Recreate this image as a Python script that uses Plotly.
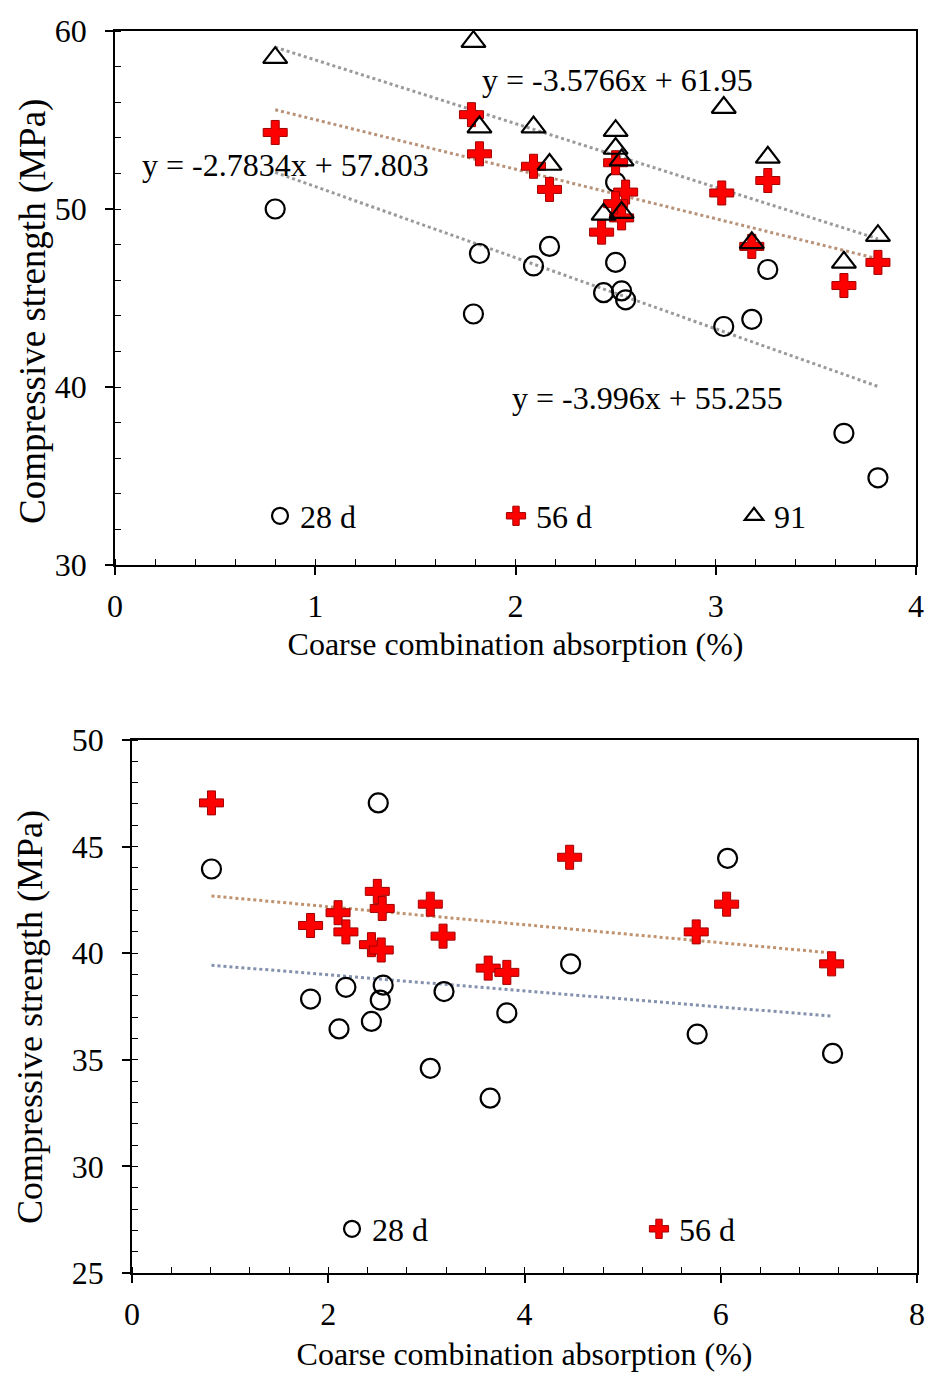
import numpy as np
import plotly.graph_objects as go

# ---------------- Top chart data ----------------
top_x28 = [0.80, 1.79, 1.82, 2.09, 2.17, 2.44, 2.50, 2.50, 2.53, 2.55, 3.04, 3.18, 3.26, 3.64, 3.81]
top_y28 = [50.0, 44.1, 47.5, 46.8, 47.9, 45.3, 47.0, 51.5, 45.4, 44.9, 43.4, 43.8, 46.6, 37.4, 34.9]

top_x56 = [0.80, 1.78, 1.82, 2.09, 2.17, 2.50, 2.55, 2.50, 2.53, 2.43, 3.03, 3.26, 3.18, 3.64, 3.81]
top_y56 = [54.3, 55.3, 53.1, 52.4, 51.1, 52.6, 50.95, 50.3, 49.5, 48.7, 50.9, 51.6, 47.9, 45.7, 47.0]

top_x91 = [0.80, 1.79, 1.82, 2.09, 2.17, 2.50, 2.50, 2.53, 2.44, 2.53, 3.04, 3.18, 3.26, 3.64, 3.81]
top_y91 = [58.5, 59.4, 54.6, 54.6, 52.5, 54.4, 53.4, 52.75, 49.7, 49.8, 55.7, 48.1, 52.9, 47.0, 48.5]

# trendline equations shown on the chart (slope, intercept)
top_fit28 = [-3.996, 55.255]
top_fit56 = [-2.7834, 57.803]
top_fit91 = [-3.5766, 61.95]

top_xticks = [0, 1, 2, 3, 4]
top_yticks = [30, 40, 50, 60]

# ---------------- Bottom chart data ----------------
bot_x28 = [0.81, 2.51, 1.82, 2.11, 2.18, 2.44, 2.53, 2.56, 3.18, 3.04, 3.65, 3.82, 4.47, 5.76, 6.07, 7.14]
bot_y28 = [43.95, 47.05, 37.85, 36.45, 38.4, 36.8, 37.8, 38.5, 38.2, 34.6, 33.2, 37.2, 39.5, 36.2, 44.45, 35.3]

bot_x56 = [0.81, 1.82, 2.10, 2.18, 2.50, 2.55, 2.44, 2.54, 3.04, 3.17, 3.63, 3.82, 4.46, 5.75, 6.06, 7.13]
bot_y56 = [47.05, 41.3, 41.9, 41.0, 42.9, 42.1, 40.4, 40.15, 42.3, 40.8, 39.3, 39.1, 44.5, 41.0, 42.3, 39.5]

bot_xticks = [0, 2, 4, 6, 8]
bot_yticks = [25, 30, 35, 40, 45, 50]

labels_top = ["28 d", "56 d", "91"]
labels_bot = ["28 d", "56 d"]
x_title = "Coarse combination absorption (%)"
y_title = "Compressive strength (MPa)"

FONT = "Liberation Serif"
FS = 32

# page has an 8px body margin; size the figure to fit the 940x1383 window
OFF = 8
W, H = 940 - OFF, 1383 - OFF


def px2fx(px):
    return (px - OFF) / W


def px2fy(py):
    return (H - (py - OFF)) / H


def line_pts(xs, slope, intercept):
    xx = np.array([min(xs), max(xs)])
    return xx, slope * xx + intercept


fig = go.Figure()

circle = dict(symbol="circle-open", size=19, color="black", line=dict(width=2.2, color="black"))
cross = dict(symbol="cross", size=20, color="#ff0000", line=dict(width=1, color="#a00000"))
tri = dict(symbol="triangle-up-open", size=21, color="black", line=dict(width=2.2, color="black"))

# ---- top trendlines
for xs, fit, col in [(top_x91, top_fit91, "#9a9a9a"),
                     (top_x56, top_fit56, "#b8937a"),
                     (top_x28, top_fit28, "#9a9a9a")]:
    lx, ly = line_pts(xs, fit[0], fit[1])
    fig.add_trace(go.Scatter(x=lx, y=ly, mode="lines", xaxis="x", yaxis="y",
                             line=dict(color=col, width=3, dash="dot"),
                             showlegend=False, hoverinfo="skip"))

# ---- top markers (each in its own single-item legend)
fig.add_trace(go.Scatter(x=top_x28, y=top_y28, mode="markers", name=labels_top[0],
                         marker=circle, xaxis="x", yaxis="y", legend="legend"))
fig.add_trace(go.Scatter(x=top_x56, y=top_y56, mode="markers", name=labels_top[1],
                         marker=cross, xaxis="x", yaxis="y", legend="legend2"))
fig.add_trace(go.Scatter(x=top_x91, y=top_y91, mode="markers", name=labels_top[2],
                         marker=tri, xaxis="x", yaxis="y", legend="legend3"))

# ---- bottom trendlines (least squares from the data)
for xs, ys, col in [(bot_x56, bot_y56, "#c0926e"), (bot_x28, bot_y28, "#8391ad")]:
    m, b = np.polyfit(xs, ys, 1)
    lx, ly = line_pts(xs, m, b)
    fig.add_trace(go.Scatter(x=lx, y=ly, mode="lines", xaxis="x2", yaxis="y2",
                             line=dict(color=col, width=3, dash="dot"),
                             showlegend=False, hoverinfo="skip"))

fig.add_trace(go.Scatter(x=bot_x28, y=bot_y28, mode="markers", name=labels_bot[0],
                         marker=circle, xaxis="x2", yaxis="y2", legend="legend4"))
fig.add_trace(go.Scatter(x=bot_x56, y=bot_y56, mode="markers", name=labels_bot[1],
                         marker=cross, xaxis="x2", yaxis="y2", legend="legend5"))

# ---- equation labels
for fit, (ax, ay) in [(top_fit91, (2.507, 57.25)),
                      (top_fit56, (0.85, 52.45)),
                      (top_fit28, (2.657, 39.4))]:
    fig.add_annotation(x=ax, y=ay, xref="x", yref="y", showarrow=False,
                       text=f"y = {fit[0]}x + {fit[1]}",
                       font=dict(family=FONT, size=FS, color="black"))

# ---- y-axis titles (placed as rotated text)
for cx, cy, fs in [(33, 312, 37), (30, 1017, 36)]:
    fig.add_annotation(x=px2fx(cx), y=px2fy(cy), xref="paper", yref="paper",
                       showarrow=False, textangle=-90, text=y_title,
                       xanchor="center", yanchor="middle",
                       font=dict(family=FONT, size=fs, color="black"))

axis_common = dict(
    showline=True, linecolor="black", linewidth=1.8, mirror=True,
    showgrid=False, zeroline=False,
    ticks="outside", ticklen=8, tickwidth=1.8, tickcolor="black",
    tickfont=dict(family=FONT, size=FS, color="black"),
    automargin=False,
)


def leg(sym_px, sym_py):
    return dict(x=px2fx(sym_px - 23), y=px2fy(sym_py), xanchor="left", yanchor="middle",
                bgcolor="rgba(0,0,0,0)", font=dict(family=FONT, size=FS),
                itemsizing="trace")


fig.update_layout(
    width=W, height=H,
    margin=dict(l=0, r=0, t=0, b=0),
    paper_bgcolor="white", plot_bgcolor="white",
    font=dict(family=FONT, size=FS, color="black"),
    xaxis=dict(**axis_common, domain=[px2fx(115), px2fx(916)], anchor="y",
               range=[0, 4], tickvals=top_xticks, ticklabelstandoff=4,
               minor=dict(dtick=0.2, ticks="inside", ticklen=6, tickwidth=1.2, tickcolor="black"),
               title=dict(text=x_title, standoff=9, font=dict(family=FONT, size=FS))),
    yaxis=dict(**axis_common, domain=[px2fy(565), px2fy(31)], anchor="x",
               range=[30, 60], tickvals=top_yticks, ticklabelstandoff=12,
               minor=dict(dtick=2, ticks="inside", ticklen=6, tickwidth=1.2, tickcolor="black")),
    xaxis2=dict(**axis_common, domain=[px2fx(132), px2fx(917)], anchor="y2",
                range=[0, 8], tickvals=bot_xticks, ticklabelstandoff=4,
                minor=dict(dtick=0.4, ticks="inside", ticklen=6, tickwidth=1.2, tickcolor="black"),
                title=dict(text=x_title, standoff=11, font=dict(family=FONT, size=FS))),
    yaxis2=dict(**axis_common, domain=[px2fy(1273), px2fy(740)], anchor="x2",
                range=[25, 50], tickvals=bot_yticks, ticklabelstandoff=12,
                minor=dict(dtick=1, ticks="inside", ticklen=6, tickwidth=1.2, tickcolor="black")),
    legend=leg(283, 516),
    legend2=leg(519, 516),
    legend3=leg(757, 516),
    legend4=leg(355, 1229),
    legend5=leg(662, 1229),
)

fig.write_html("out.html")
